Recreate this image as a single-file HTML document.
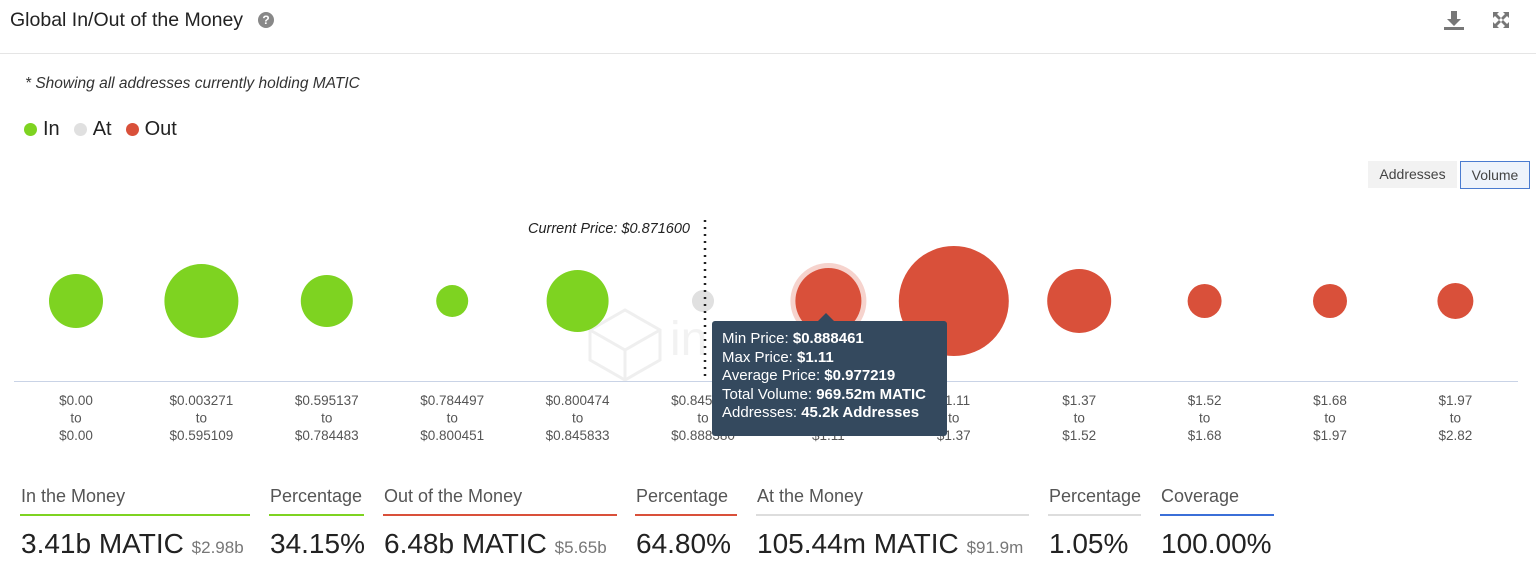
<!DOCTYPE html>
<html><head><meta charset="utf-8"><style>
body{margin:0;width:1536px;height:568px;background:#fff;font-family:"Liberation Sans",sans-serif;color:#222;position:relative;overflow:hidden}
.a{position:absolute}
.lbl{font-size:18px;color:#555}
.val{font-size:28px;color:#222;white-space:nowrap}
.val small{font-size:17px;color:#777}
.ul{height:2px}
</style></head><body>
<div class="a" style="left:10px;top:9px;font-size:19.5px;color:#222">Global In/Out of the Money</div>
<div class="a" style="left:258px;top:12px;width:16px;height:16px;border-radius:50%;background:#888;color:#fff;font-size:12px;font-weight:bold;text-align:center;line-height:16px">?</div>
<svg class="a" style="left:1443px;top:10px" width="22" height="22"><path d="M8 1h6v8h4l-7 7-7-7h4z" fill="#777"/><rect x="1" y="17" width="20" height="3" fill="#777"/></svg>
<svg class="a" style="left:1491px;top:10px" width="20" height="20"><path d="M2 2h6L6 4l4 4-2 2-4-4-2 2zM18 2v6l-2-2-4 4-2-2 4-4-2-2zM2 18v-6l2 2 4-4 2 2-4 4 2 2zM18 18h-6l2-2-4-4 2-2 4 4 2-2z" fill="#777"/></svg>
<div class="a" style="left:0;top:53px;width:1536px;height:1px;background:#e5e5e5"></div>
<div class="a" style="left:25px;top:75px;font-size:15.5px;font-style:italic;color:#333">* Showing all addresses currently holding MATIC</div>
<div class="a" style="left:24px;top:118px;font-size:20px;color:#222;display:flex;align-items:center">
<span style="display:flex;align-items:center"><span style="width:13px;height:13px;border-radius:50%;background:#7ed321;margin-right:6px"></span>In</span>
<span style="display:flex;align-items:center;margin-left:14px"><span style="width:13px;height:13px;border-radius:50%;background:#e0e0e0;margin-right:6px"></span>At</span>
<span style="display:flex;align-items:center;margin-left:14px"><span style="width:13px;height:13px;border-radius:50%;background:#d9503a;margin-right:6px"></span>Out</span>
</div>
<div class="a" style="left:1368px;top:161px;width:89px;height:27px;background:#f2f2f2;font-size:14px;color:#444;text-align:center;line-height:27px">Addresses</div>
<div class="a" style="left:1460px;top:161px;width:68px;height:26px;border:1px solid #4a7bd0;background:#eef3fb;font-size:14px;color:#444;text-align:center;line-height:26px">Volume</div>

<svg class="a" style="left:0;top:0" width="1536" height="568">
<g id="wm" opacity="0.08" stroke="#333" fill="none" stroke-width="3"><path d="M590 330 L625 310 L660 330 L660 360 L625 380 L590 360 Z M590 330 L625 350 L660 330 M625 350 L625 380"/></g>
<text x="670" y="355" font-size="48" fill="#333" opacity="0.06" font-family="Liberation Sans">in</text>
<line x1="14" y1="381.5" x2="1518" y2="381.5" stroke="#c9d3e6" stroke-width="1"/>
<g id="bubbles"></g><g id="xl"></g>
<line x1="705" y1="220" x2="705" y2="381" stroke="#222" stroke-width="2.5" stroke-dasharray="2,5"/>
<text x="690" y="233" text-anchor="end" font-size="14.5" font-style="italic" fill="#222">Current Price: $0.871600</text>
</svg>

<div class="a" style="left:712px;top:321px;width:235px;height:115px;background:#34495e;border-radius:3px;color:#fff;font-size:15px;line-height:18.5px;padding:9px 0 0 10px;box-sizing:border-box;white-space:nowrap">
<div>Min Price: <b>$0.888461</b></div><div>Max Price: <b>$1.11</b></div><div>Average Price: <b>$0.977219</b></div><div>Total Volume: <b>969.52m MATIC</b></div><div>Addresses: <b>45.2k Addresses</b></div>
<div style="position:absolute;left:106px;top:-8px;width:0;height:0;border-left:8px solid transparent;border-right:8px solid transparent;border-bottom:8px solid #34495e"></div>
</div>

<div class="a lbl" style="left:21px;top:486px">In the Money</div>
<div class="a ul" style="left:20px;top:514px;width:230px;background:#7ed321"></div>
<div class="a val" style="left:21px;top:528px">3.41b MATIC <small>$2.98b</small></div>
<div class="a lbl" style="left:270px;top:486px">Percentage</div>
<div class="a ul" style="left:269px;top:514px;width:95px;background:#7ed321"></div>
<div class="a val" style="left:270px;top:528px">34.15%</div>
<div class="a lbl" style="left:384px;top:486px">Out of the Money</div>
<div class="a ul" style="left:383px;top:514px;width:234px;background:#d9503a"></div>
<div class="a val" style="left:384px;top:528px">6.48b MATIC <small>$5.65b</small></div>
<div class="a lbl" style="left:636px;top:486px">Percentage</div>
<div class="a ul" style="left:635px;top:514px;width:102px;background:#d9503a"></div>
<div class="a val" style="left:636px;top:528px">64.80%</div>
<div class="a lbl" style="left:757px;top:486px">At the Money</div>
<div class="a ul" style="left:756px;top:514px;width:273px;background:#ddd"></div>
<div class="a val" style="left:757px;top:528px">105.44m MATIC <small>$91.9m</small></div>
<div class="a lbl" style="left:1049px;top:486px">Percentage</div>
<div class="a ul" style="left:1048px;top:514px;width:93px;background:#ddd"></div>
<div class="a val" style="left:1049px;top:528px">1.05%</div>
<div class="a lbl" style="left:1161px;top:486px">Coverage</div>
<div class="a ul" style="left:1160px;top:514px;width:114px;background:#3b6fd8"></div>
<div class="a val" style="left:1161px;top:528px">100.00%</div>

<script>
const rangeFrom=["$0.00","$0.003271","$0.595137","$0.784497","$0.800474","$0.845833","$0.888461","$1.11","$1.37","$1.52","$1.68","$1.97"];
const rangeTo=["$0.00","$0.595109","$0.784483","$0.800451","$0.845833","$0.888380","$1.11","$1.37","$1.52","$1.68","$1.97","$2.82"];
const volumes=[649,1218,602,228,855,108,969.52,2692,911,257,257,288];
const status=["in","in","in","in","in","at","out","out","out","out","out","out"];
const colors={in:"#7ed321",at:"#e0e0e0",out:"#d9503a"};
const ns="http://www.w3.org/2000/svg";
const x0=76,step=125.4,cy=301;
const xs=i=>x0+i*step;
const rs=v=>1.06*Math.sqrt(v);
const bg=document.getElementById('bubbles'),xl=document.getElementById('xl');
volumes.forEach((v,i)=>{
  if(i===6){const h=document.createElementNS(ns,'circle');h.setAttribute('cx',xs(i));h.setAttribute('cy',cy);h.setAttribute('r',rs(v)+5);h.setAttribute('fill','#f6d3cd');bg.appendChild(h);}
  const c=document.createElementNS(ns,'circle');
  
  
  c.setAttribute('cx',xs(i));c.setAttribute('cy',cy);c.setAttribute('r',rs(v));c.setAttribute('fill',colors[status[i]]);
  bg.appendChild(c);
  [rangeFrom[i],"to",rangeTo[i]].forEach((t,k)=>{
    const tx=document.createElementNS(ns,'text');
    
    
    tx.setAttribute('x',xs(i));tx.setAttribute('y',405+k*17.5);tx.setAttribute('text-anchor','middle');
    tx.setAttribute('font-size','13.5');tx.setAttribute('fill','#555');tx.textContent=t;xl.appendChild(tx);
  });
});
</script>
</body></html>
